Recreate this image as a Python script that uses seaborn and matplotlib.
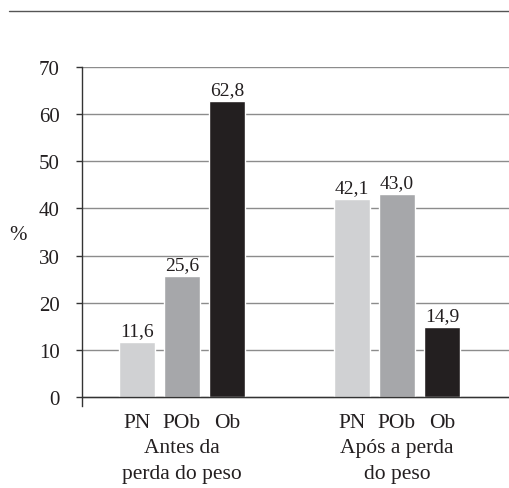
import numpy as np
import pandas as pd
import matplotlib.pyplot as plt
import matplotlib.transforms as mtransforms
from matplotlib.lines import Line2D
import seaborn as sns

# Data
groups = ['Antes da\nperda do peso', 'Após a perda\ndo peso']
classes = ['PN', 'POb', 'Ob']
before = [11.6, 25.6, 62.8]
after = [42.1, 43.0, 14.9]
colors = ['#d0d1d3', '#a6a7aa', '#231f20']

df = pd.DataFrame({
    'grupo': np.repeat(groups, len(classes)),
    'classe': classes * len(groups),
    'valor': before + after,
})

sns.set_style('white')
plt.rcParams['font.family'] = ['Liberation Serif', 'DejaVu Serif']

fig = plt.figure(figsize=(5.09, 4.89), dpi=100)
ax = fig.add_axes([82 / 509, 1 - 407 / 489, 427 / 509, 339 / 489])

sns.barplot(data=df, x='grupo', y='valor', hue='classe', palette=colors,
            width=0.63, gap=0.2, ax=ax, legend=False, saturation=1)

# value labels with decimal comma
for cont in ax.containers:
    labs = [f'{b.get_height():.1f}'.replace('.', ',') for b in cont]
    ax.bar_label(cont, labels=labs, padding=2, fontsize=14, color='#231f20')

ax.set_ylim(-1.91, 70)
ax.set_xlim(-0.465, 1.521)
ax.set_yticks(range(0, 71, 10))
ax.yaxis.grid(True, color='#8c8c8c', linewidth=1.0)
ax.set_axisbelow(True)
ax.axhline(0, color='#333333', linewidth=1.0, zorder=1)

for s in ['top', 'right', 'bottom']:
    ax.spines[s].set_visible(False)
ax.spines['left'].set_color('#333333')
ax.spines['left'].set_linewidth(1.0)

ax.tick_params(axis='y', length=4, width=1, color='#333333', pad=12,
               labelsize=15, labelcolor='#231f20', left=True)
ax.tick_params(axis='x', length=0, pad=23, labelsize=15.5, labelcolor='#231f20')
for t in ax.get_xticklabels():
    t.set_linespacing(1.5)

# class names under each bar
trans = mtransforms.blended_transform_factory(ax.transData, ax.transAxes)
for cont, name in zip(ax.containers, classes):
    for b in cont:
        ax.text(b.get_x() + b.get_width() / 2, -0.02, name, transform=trans,
                ha='center', va='top', fontsize=15.5, color='#231f20')

ax.set_xlabel('')
ax.set_ylabel('%', rotation=0, fontsize=15, color='#231f20', va='center')
ax.yaxis.set_label_coords(-0.15, 0.505)

# rule across the top
fig.add_artist(Line2D([9 / 509, 1], [1 - 12 / 489] * 2, color='#555555',
                      linewidth=1.0, transform=fig.transFigure))

fig.savefig('out.png', dpi=100)
